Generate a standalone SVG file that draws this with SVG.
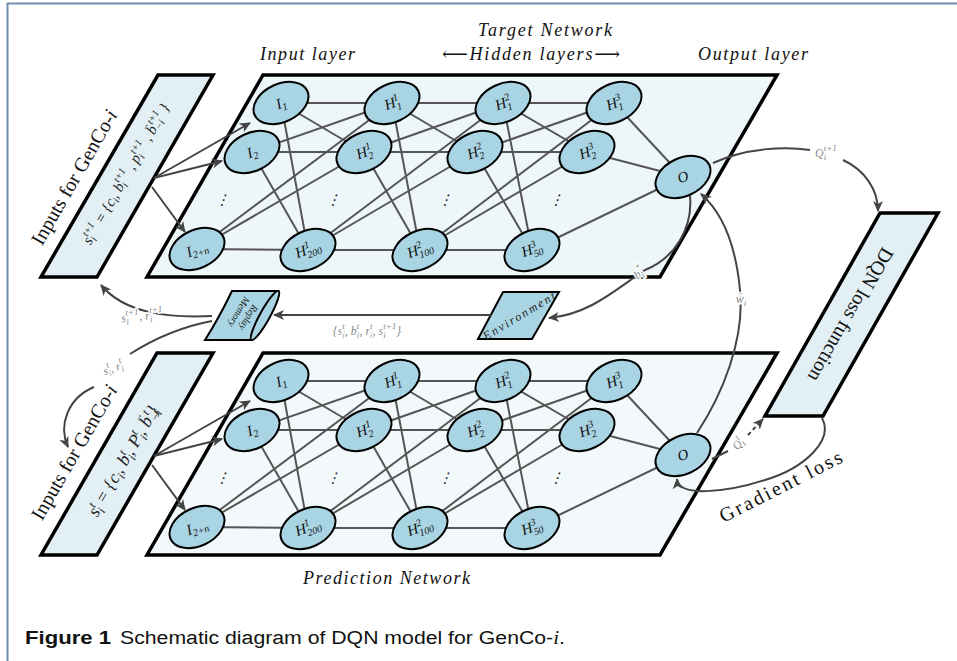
<svg xmlns="http://www.w3.org/2000/svg" width="957" height="661" viewBox="0 0 957 661">
<defs>
<marker id="ah" markerUnits="userSpaceOnUse" markerWidth="12" markerHeight="12" viewBox="0 0 12 12" refX="10" refY="6" orient="auto">
<path d="M0,1 L11,6 L0,11 L3,6 z" fill="#444"/>
</marker>
<style>
.frame{fill:none;stroke:#6f8db0;stroke-width:2}
.plane{stroke:#000;stroke-width:3.5;stroke-linejoin:miter}
.box{fill:#e2f0f5;stroke:#000;stroke-width:3.5}
.node ellipse{fill:#a9d4e3;stroke:#000;stroke-width:2}
.e{stroke:#555;stroke-width:2;fill:none}
.arr{stroke:#444;stroke-width:2;fill:none;marker-end:url(#ah)}
.ln{stroke:#444;stroke-width:2;fill:none}
.nl{font-family:"Liberation Serif","DejaVu Serif",serif;font-style:italic;font-size:15px;text-anchor:middle;fill:#111}
.s{font-size:10px}
.tt{font-family:"Liberation Serif","DejaVu Serif",serif;font-style:italic;font-size:18px;fill:#111}
.rm{font-family:"Liberation Serif","DejaVu Serif",serif;font-size:20px;fill:#111;text-anchor:middle}
.fm{font-family:"Liberation Serif","DejaVu Serif",serif;font-style:italic;fill:#222;text-anchor:middle}
.g{font-family:"Liberation Serif","DejaVu Serif",serif;font-style:italic;font-size:12px;fill:#888;text-anchor:middle;paint-order:stroke;stroke:#fff;stroke-width:3px;stroke-linejoin:round}
.dots{font-family:"DejaVu Serif",serif;font-size:15px;fill:#222;text-anchor:middle}
</style>
</defs>
<rect width="957" height="661" fill="#fff"/>
<path class="frame" d="M7.5 661 V3.5 H957"/>

<g id="target-plane"><polygon class="plane" fill="#edf6f9" points="263,75 777,75 660,277 147,277"/></g>
<g id="prediction-plane"><polygon class="plane" fill="#f3f9fb" points="263,353 777,353 660,555 147,555"/></g>

<g id="input-top">
<polygon class="box" points="158,75 213,75 97,277 41,277"/>
<text class="rm" transform="translate(74,177) rotate(-60)" y="7">Inputs for GenCo-<tspan font-style="italic">i</tspan></text>
<text class="fm" font-size="15" transform="translate(126,174) rotate(-60)" y="5">s<tspan font-size="10" dy="3">i</tspan><tspan font-size="10" dx="-3" dy="-10">t+1</tspan><tspan dy="7">  =  {c</tspan><tspan font-size="10" dy="3">i</tspan><tspan dy="-3">, b</tspan><tspan font-size="10" dy="3">i</tspan><tspan font-size="10" dx="-3" dy="-10">t+1</tspan><tspan dy="7"> , p</tspan><tspan font-size="10" dy="3">i</tspan><tspan font-size="10" dx="-3" dy="-10">t+1</tspan><tspan dy="7"> , b</tspan><tspan font-size="8" dx="-8" dy="-10">→</tspan><tspan font-size="10" dy="13">−i</tspan><tspan font-size="10" dx="-9" dy="-10">t+1</tspan><tspan dy="7">  }</tspan></text>
</g>

<g id="input-bottom">
<polygon class="box" points="157,353 213,353 97,555 41,555"/>
<text class="rm" transform="translate(74,452) rotate(-60)" y="7">Inputs for GenCo-<tspan font-style="italic">i</tspan></text>
<text class="fm" font-size="18" transform="translate(123,461) rotate(-60)" y="6">s<tspan font-size="12" dy="4">i</tspan><tspan font-size="12" dx="-3.5" dy="-11">t</tspan><tspan dy="7"> = {c</tspan><tspan font-size="12" dy="4">i</tspan><tspan dy="-4">, b</tspan><tspan font-size="12" dy="4">i</tspan><tspan font-size="12" dx="-3.5" dy="-11">t</tspan><tspan dy="7">, P</tspan><tspan font-size="12" dy="4">i</tspan><tspan font-size="12" dx="-3.5" dy="-11">t</tspan><tspan dy="7">, b</tspan><tspan font-size="9" dx="-9" dy="-12">→</tspan><tspan font-size="12" dy="16">−i</tspan><tspan font-size="12" dx="-10" dy="-11">t</tspan><tspan dy="7">}</tspan></text>
</g>

<g id="dqn-loss">
<polygon class="box" points="880,213 938,213 823,416 765,416"/>
<text class="rm" transform="translate(851,315) rotate(120)" y="7">DQN loss function</text>
</g>

<g id="replay-memory">
<path d="M232 291 L278 291 Q268 318 252 340 L205 340 Q219 318 232 291 Z" fill="#a9d4e3" stroke="#000" stroke-width="2"/>
<ellipse cx="265" cy="315.5" rx="28" ry="5" transform="rotate(-61 265 315.5)" fill="#a9d4e3" stroke="#000" stroke-width="2"/>
<text class="fm" font-size="10" font-style="normal" transform="translate(244,315) rotate(120)"><tspan x="0" y="-2">Replay</tspan><tspan x="0" y="9">Memory</tspan></text>
</g>

<g id="environment">
<polygon points="503,292 559,292 532,339 478,339" fill="#a9d4e3" stroke="#000" stroke-width="2"/>
<text class="fm" font-size="12" font-style="normal" transform="translate(519,316) rotate(-31)" y="4" textLength="82" lengthAdjust="spacing">Environment</text>
</g>

<g id="connectors">
<g id="edges-target">
<path class="e" d="M281 103 L392 103 M281 103 L364 152 M281 103 L308 250 M252 152 L392 103 M252 152 L364 152 M252 152 L308 250 M197 249 L392 103 M197 249 L364 152 M197 249 L308 250"/>
<path class="e" d="M392 103 L503 103 M392 103 L475 152 M392 103 L420 250 M364 152 L503 103 M364 152 L475 152 M364 152 L420 250 M308 250 L503 103 M308 250 L475 152 M308 250 L420 250"/>
<path class="e" d="M503 103 L614 103 M503 103 L587 152 M503 103 L532 250 M475 152 L614 103 M475 152 L587 152 M475 152 L532 250 M420 250 L614 103 M420 250 L587 152 M420 250 L532 250"/>
<path class="e" d="M614 103 L683 177 M587 152 L683 177 M532 250 L683 177"/>
<path class="arr" d="M154 178 L250 123"/>
<path class="arr" d="M154 178 L222 161"/>
<path class="arr" d="M152 187 L185 232"/>
</g>
<g id="edges-prediction" transform="translate(0,278)">
<path class="e" d="M281 103 L392 103 M281 103 L364 152 M281 103 L308 250 M252 152 L392 103 M252 152 L364 152 M252 152 L308 250 M197 249 L392 103 M197 249 L364 152 M197 249 L308 250"/>
<path class="e" d="M392 103 L503 103 M392 103 L475 152 M392 103 L420 250 M364 152 L503 103 M364 152 L475 152 M364 152 L420 250 M308 250 L503 103 M308 250 L475 152 M308 250 L420 250"/>
<path class="e" d="M503 103 L614 103 M503 103 L587 152 M503 103 L532 250 M475 152 L614 103 M475 152 L587 152 M475 152 L532 250 M420 250 L614 103 M420 250 L587 152 M420 250 L532 250"/>
<path class="e" d="M614 103 L683 177 M587 152 L683 177 M532 250 L683 177"/>
<path class="arr" d="M154 178 L250 123"/>
<path class="arr" d="M154 178 L222 161"/>
<path class="arr" d="M152 187 L185 232"/>
</g>
<path class="ln" d="M713 163 C745 148 785 146 810 150"/>
<path class="arr" d="M843 160 C865 170 878 190 878 211"/>
<path class="arr" d="M690 196 C693 228 675 258 645 270 C615 290 590 314 549 318"/>
<path class="arr" d="M697 433 C722 395 745 340 740 290 C736 248 724 214 701 194"/>
<path class="ln" d="M712 459 L728 451"/>
<path class="arr" stroke-dasharray="4 3" d="M748 435 L763 419"/>
<path class="arr" d="M822 418 C834 440 805 468 765 480 C725 493 678 497 677 479"/>
<path class="arr" d="M491 315 L274 315"/>
<path class="arr" d="M212 316 C170 318 125 314 101 285"/>
<path class="ln" d="M212 321 C180 327 152 340 130 354"/>
<path class="arr" d="M94 387 C68 398 58 425 68 447"/>
</g>

<text class="g" x="826" y="157">Q<tspan font-size="9" dy="3">i</tspan><tspan font-size="9" dx="-2.5" dy="-9">t+1</tspan></text>
<text class="g" transform="translate(639,273) rotate(-40)" y="4">b<tspan font-size="9" dy="3">i</tspan><tspan font-size="9" dx="-2.5" dy="-9">*</tspan></text>
<text class="g" x="741" y="303">w<tspan font-size="7" dx="-7" dy="-8">→</tspan><tspan font-size="9" dy="11">i</tspan></text>
<text class="g" transform="translate(738,444) rotate(-50)" y="4">Q<tspan font-size="9" dy="3">i</tspan><tspan font-size="9" dx="-2.5" dy="-9">t</tspan></text>
<text class="g" transform="translate(142,316) rotate(-6)" y="4">s<tspan font-size="9" dy="3">i</tspan><tspan font-size="9" dx="-2.5" dy="-9">t+1</tspan><tspan dy="6">, r</tspan><tspan font-size="9" dy="3">i</tspan><tspan font-size="9" dx="-2.5" dy="-9">t+1</tspan></text>
<text class="g" x="367" y="335">{s<tspan font-size="9" dy="3">i</tspan><tspan font-size="9" dx="-2.5" dy="-9">t</tspan><tspan dy="6">, b</tspan><tspan font-size="9" dy="3">i</tspan><tspan font-size="9" dx="-2.5" dy="-9">t</tspan><tspan dy="6">, r</tspan><tspan font-size="9" dy="3">i</tspan><tspan font-size="9" dx="-2.5" dy="-9">t</tspan><tspan dy="6">, s</tspan><tspan font-size="9" dy="3">i</tspan><tspan font-size="9" dx="-2.5" dy="-9">t+1</tspan><tspan dy="6">}</tspan></text>
<text class="g" transform="translate(113,368) rotate(-20)" y="4">s<tspan font-size="9" dy="3">i</tspan><tspan font-size="9" dx="-2.5" dy="-9">t</tspan><tspan dy="6">, r</tspan><tspan font-size="9" dy="3">i</tspan><tspan font-size="9" dx="-2.5" dy="-9">t</tspan></text>
<text class="rm" font-size="18" transform="translate(781,487) rotate(-27)" y="6" textLength="135" lengthAdjust="spacing">Gradient loss</text>

<text class="tt" x="260" y="60" textLength="95" lengthAdjust="spacing">Input layer</text>
<text class="tt" x="478" y="36" textLength="134" lengthAdjust="spacing">Target Network</text>
<text class="tt" x="442" y="60" textLength="178" lengthAdjust="spacing">⟵Hidden layers⟶</text>
<text class="tt" x="698" y="60" textLength="110" lengthAdjust="spacing">Output layer</text>
<text class="tt" x="303" y="584" textLength="167" lengthAdjust="spacing">Prediction Network</text>

<g id="target-network">
<g id="t-I1" class="node"><ellipse cx="281" cy="103" rx="29" ry="19" transform="rotate(-25 281 103)"/><text class="nl" transform="translate(281,103) rotate(-20)" y="5">I<tspan class="s" dy="3">1</tspan></text></g>
<g id="t-I2" class="node"><ellipse cx="252" cy="152" rx="29" ry="19" transform="rotate(-25 252 152)"/><text class="nl" transform="translate(252,152) rotate(-20)" y="5">I<tspan class="s" dy="3">2</tspan></text></g>
<g id="t-I2n" class="node"><ellipse cx="197" cy="249" rx="29" ry="19" transform="rotate(-25 197 249)"/><text class="nl" transform="translate(197,249) rotate(-20)" y="5">I<tspan class="s" dy="3">2+n</tspan></text></g>
<g id="t-H1-1" class="node"><ellipse cx="392" cy="103" rx="29" ry="19" transform="rotate(-25 392 103)"/><text class="nl" transform="translate(392,103) rotate(-20)" y="5">H<tspan class="s" dy="4">1</tspan><tspan class="s" dx="-5" dy="-10">1</tspan></text></g>
<g id="t-H2-1" class="node"><ellipse cx="364" cy="152" rx="29" ry="19" transform="rotate(-25 364 152)"/><text class="nl" transform="translate(364,152) rotate(-20)" y="5">H<tspan class="s" dy="4">2</tspan><tspan class="s" dx="-5" dy="-10">1</tspan></text></g>
<g id="t-H200-1" class="node"><ellipse cx="308" cy="250" rx="29" ry="19" transform="rotate(-25 308 250)"/><text class="nl" transform="translate(308,250) rotate(-20)" y="4">H<tspan class="s" dy="4">200</tspan><tspan class="s" dx="-15" dy="-10">1</tspan></text></g>
<g id="t-H1-2" class="node"><ellipse cx="503" cy="103" rx="29" ry="19" transform="rotate(-25 503 103)"/><text class="nl" transform="translate(503,103) rotate(-20)" y="5">H<tspan class="s" dy="4">1</tspan><tspan class="s" dx="-5" dy="-10">2</tspan></text></g>
<g id="t-H2-2" class="node"><ellipse cx="475" cy="152" rx="29" ry="19" transform="rotate(-25 475 152)"/><text class="nl" transform="translate(475,152) rotate(-20)" y="5">H<tspan class="s" dy="4">2</tspan><tspan class="s" dx="-5" dy="-10">2</tspan></text></g>
<g id="t-H100-2" class="node"><ellipse cx="420" cy="250" rx="29" ry="19" transform="rotate(-25 420 250)"/><text class="nl" transform="translate(420,250) rotate(-20)" y="4">H<tspan class="s" dy="4">100</tspan><tspan class="s" dx="-15" dy="-10">2</tspan></text></g>
<g id="t-H1-3" class="node"><ellipse cx="614" cy="103" rx="29" ry="19" transform="rotate(-25 614 103)"/><text class="nl" transform="translate(614,103) rotate(-20)" y="5">H<tspan class="s" dy="4">1</tspan><tspan class="s" dx="-5" dy="-10">3</tspan></text></g>
<g id="t-H2-3" class="node"><ellipse cx="587" cy="152" rx="29" ry="19" transform="rotate(-25 587 152)"/><text class="nl" transform="translate(587,152) rotate(-20)" y="5">H<tspan class="s" dy="4">2</tspan><tspan class="s" dx="-5" dy="-10">3</tspan></text></g>
<g id="t-H50-3" class="node"><ellipse cx="532" cy="250" rx="29" ry="19" transform="rotate(-25 532 250)"/><text class="nl" transform="translate(532,250) rotate(-20)" y="4">H<tspan class="s" dy="4">50</tspan><tspan class="s" dx="-10" dy="-10">3</tspan></text></g>
<g id="t-O" class="node"><ellipse cx="683" cy="177" rx="29" ry="19" transform="rotate(-25 683 177)"/><text class="nl" font-size="13" transform="translate(683,177) rotate(-20)" y="5">O</text></g>
<text class="dots" transform="translate(224,200) rotate(20)" y="5">⋮</text>
<text class="dots" transform="translate(335,200) rotate(20)" y="5">⋮</text>
<text class="dots" transform="translate(447,200) rotate(20)" y="5">⋮</text>
<text class="dots" transform="translate(558,200) rotate(20)" y="5">⋮</text>
</g>

<g id="prediction-network" transform="translate(0,278)">
<g id="p-I1" class="node"><ellipse cx="281" cy="103" rx="29" ry="19" transform="rotate(-25 281 103)"/><text class="nl" transform="translate(281,103) rotate(-20)" y="5">I<tspan class="s" dy="3">1</tspan></text></g>
<g id="p-I2" class="node"><ellipse cx="252" cy="152" rx="29" ry="19" transform="rotate(-25 252 152)"/><text class="nl" transform="translate(252,152) rotate(-20)" y="5">I<tspan class="s" dy="3">2</tspan></text></g>
<g id="p-I2n" class="node"><ellipse cx="197" cy="249" rx="29" ry="19" transform="rotate(-25 197 249)"/><text class="nl" transform="translate(197,249) rotate(-20)" y="5">I<tspan class="s" dy="3">2+n</tspan></text></g>
<g id="p-H1-1" class="node"><ellipse cx="392" cy="103" rx="29" ry="19" transform="rotate(-25 392 103)"/><text class="nl" transform="translate(392,103) rotate(-20)" y="5">H<tspan class="s" dy="4">1</tspan><tspan class="s" dx="-5" dy="-10">1</tspan></text></g>
<g id="p-H2-1" class="node"><ellipse cx="364" cy="152" rx="29" ry="19" transform="rotate(-25 364 152)"/><text class="nl" transform="translate(364,152) rotate(-20)" y="5">H<tspan class="s" dy="4">2</tspan><tspan class="s" dx="-5" dy="-10">1</tspan></text></g>
<g id="p-H200-1" class="node"><ellipse cx="308" cy="250" rx="29" ry="19" transform="rotate(-25 308 250)"/><text class="nl" transform="translate(308,250) rotate(-20)" y="4">H<tspan class="s" dy="4">200</tspan><tspan class="s" dx="-15" dy="-10">1</tspan></text></g>
<g id="p-H1-2" class="node"><ellipse cx="503" cy="103" rx="29" ry="19" transform="rotate(-25 503 103)"/><text class="nl" transform="translate(503,103) rotate(-20)" y="5">H<tspan class="s" dy="4">1</tspan><tspan class="s" dx="-5" dy="-10">2</tspan></text></g>
<g id="p-H2-2" class="node"><ellipse cx="475" cy="152" rx="29" ry="19" transform="rotate(-25 475 152)"/><text class="nl" transform="translate(475,152) rotate(-20)" y="5">H<tspan class="s" dy="4">2</tspan><tspan class="s" dx="-5" dy="-10">2</tspan></text></g>
<g id="p-H100-2" class="node"><ellipse cx="420" cy="250" rx="29" ry="19" transform="rotate(-25 420 250)"/><text class="nl" transform="translate(420,250) rotate(-20)" y="4">H<tspan class="s" dy="4">100</tspan><tspan class="s" dx="-15" dy="-10">2</tspan></text></g>
<g id="p-H1-3" class="node"><ellipse cx="614" cy="103" rx="29" ry="19" transform="rotate(-25 614 103)"/><text class="nl" transform="translate(614,103) rotate(-20)" y="5">H<tspan class="s" dy="4">1</tspan><tspan class="s" dx="-5" dy="-10">3</tspan></text></g>
<g id="p-H2-3" class="node"><ellipse cx="587" cy="152" rx="29" ry="19" transform="rotate(-25 587 152)"/><text class="nl" transform="translate(587,152) rotate(-20)" y="5">H<tspan class="s" dy="4">2</tspan><tspan class="s" dx="-5" dy="-10">3</tspan></text></g>
<g id="p-H50-3" class="node"><ellipse cx="532" cy="250" rx="29" ry="19" transform="rotate(-25 532 250)"/><text class="nl" transform="translate(532,250) rotate(-20)" y="4">H<tspan class="s" dy="4">50</tspan><tspan class="s" dx="-10" dy="-10">3</tspan></text></g>
<g id="p-O" class="node"><ellipse cx="683" cy="177" rx="29" ry="19" transform="rotate(-25 683 177)"/><text class="nl" font-size="13" transform="translate(683,177) rotate(-20)" y="5">O</text></g>
<text class="dots" transform="translate(224,200) rotate(20)" y="5">⋮</text>
<text class="dots" transform="translate(335,200) rotate(20)" y="5">⋮</text>
<text class="dots" transform="translate(447,200) rotate(20)" y="5">⋮</text>
<text class="dots" transform="translate(558,200) rotate(20)" y="5">⋮</text>
</g>

<text x="25" y="644" font-family="'Liberation Sans','DejaVu Sans',sans-serif" font-size="18" font-weight="bold" fill="#111" textLength="86" lengthAdjust="spacingAndGlyphs">Figure 1</text>
<text x="120" y="644" font-family="'Liberation Sans','DejaVu Sans',sans-serif" font-size="18" fill="#111" textLength="445" lengthAdjust="spacingAndGlyphs">Schematic diagram of DQN model for GenCo-<tspan font-family="'Liberation Serif',serif" font-style="italic">i</tspan>.</text>
</svg>
